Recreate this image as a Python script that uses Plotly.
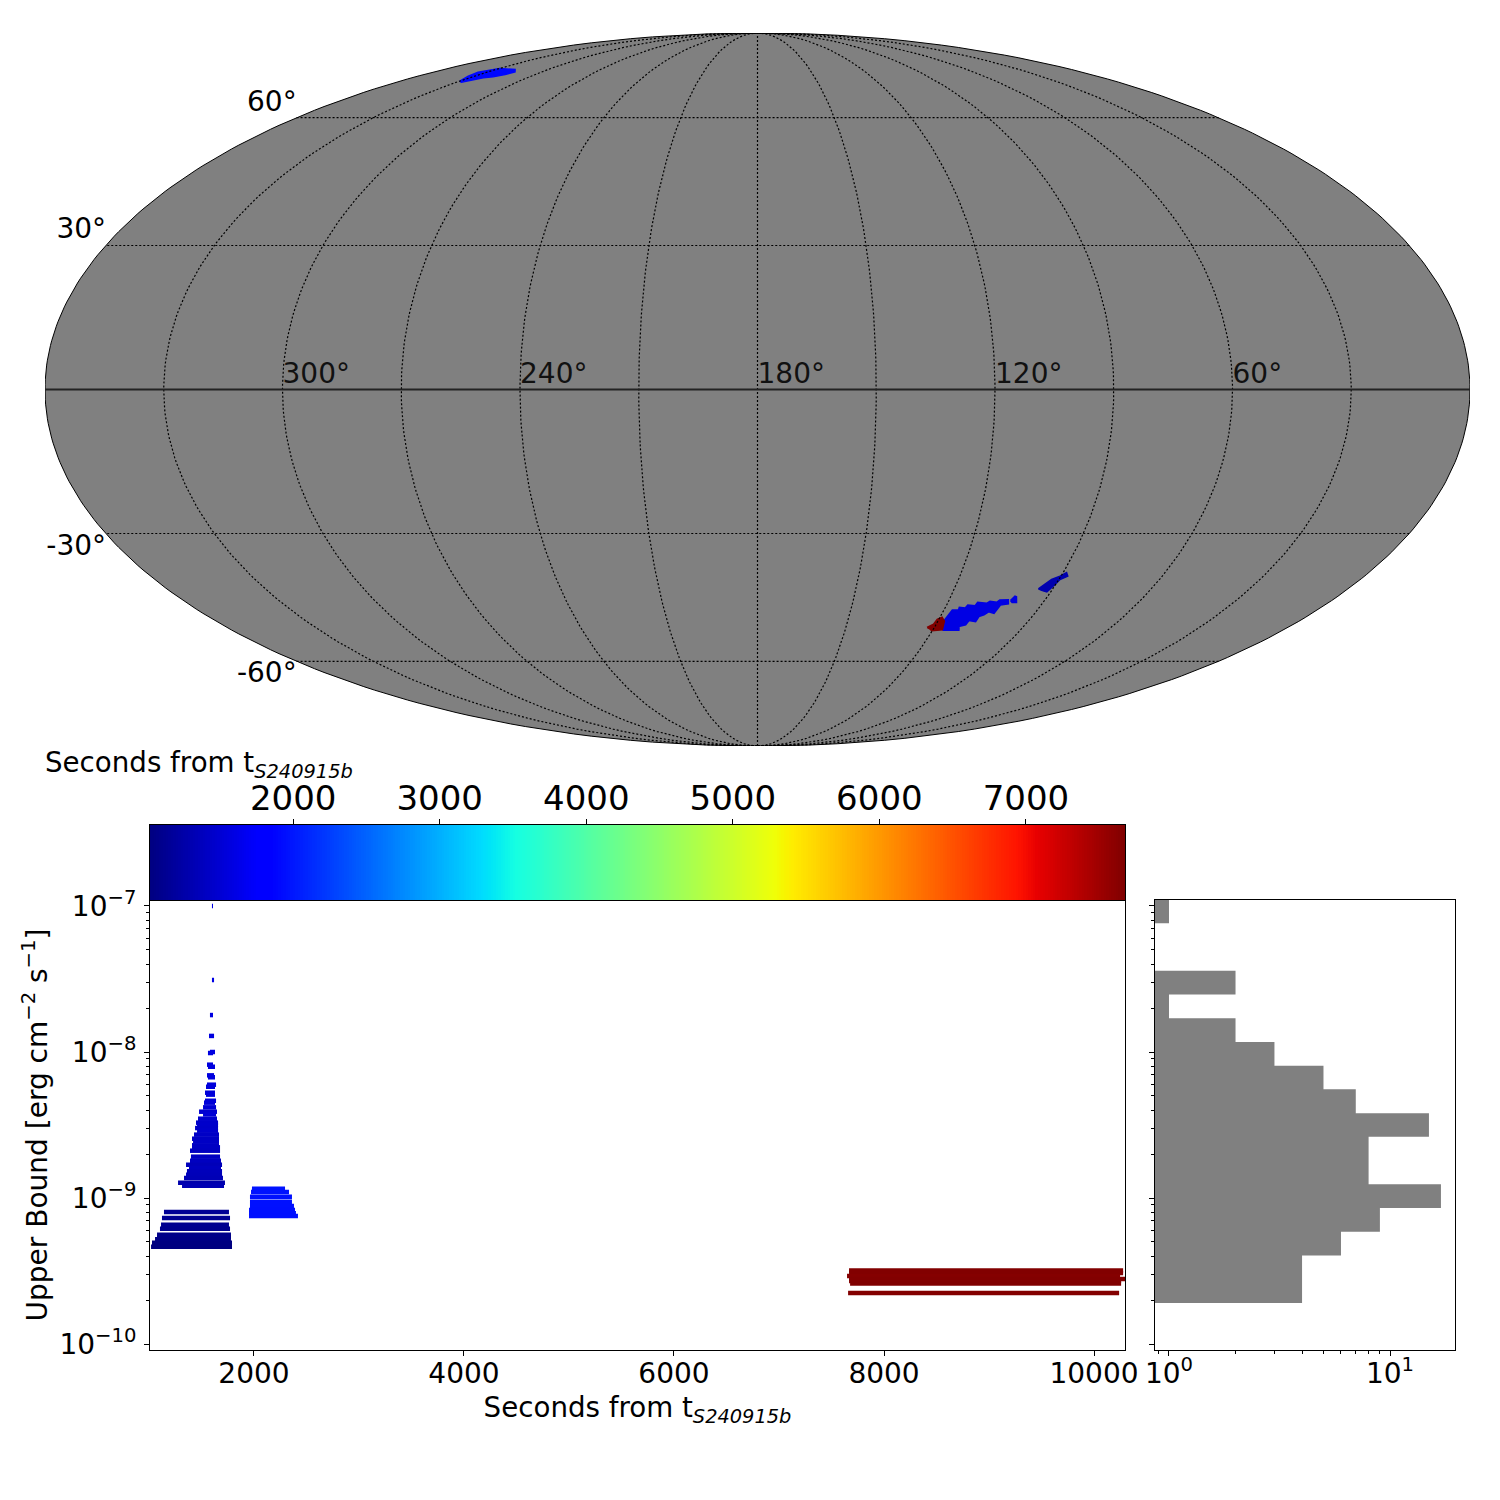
import numpy as np
import plotly.graph_objects as go
from plotly.colors import sample_colorscale

# ---------- data ----------
jet = [[0, "rgb(0,0,128)"], [.11, "rgb(0,0,255)"], [.125, "rgb(0,0,255)"], [.34, "rgb(0,219,255)"],
       [.35, "rgb(0,230,247)"], [.375, "rgb(21,255,226)"], [.64, "rgb(239,255,8)"], [.65, "rgb(247,246,0)"],
       [.66, "rgb(255,236,0)"], [.89, "rgb(255,19,0)"], [.91, "rgb(232,0,0)"], [1, "rgb(128,0,0)"]]
t_min, t_max = 1023, 7676

t_start = [1600, 1600, 1600, 1581, 1572, 1562, 1581, 1553, 1562, 1553, 1562, 1553, 1543, 1534, 1543, 1534, 1524,
           1515, 1477, 1515, 1467, 1448, 1458, 1439, 1458, 1429, 1410, 1420, 1410, 1410, 1391,
           1400, 1391, 1353, 1381, 1362, 1353, 1334, 1277, 1315,
           1143, 1124, 1115, 1105, 1077, 1077, 1058, 1029, 1020,
           1981, 1972, 1962, 1962, 1962, 1953, 1953, 1953,
           7667, 7667, 7648, 7667, 7667, 7677, 7658]
t_end = [1610, 1600, 1620, 1610, 1620, 1610, 1629, 1610, 1629, 1620, 1629, 1639, 1629, 1629, 1629, 1639, 1629,
         1639, 1648, 1639, 1648, 1658, 1658, 1658, 1658, 1667, 1667, 1667, 1667, 1677, 1677,
         1677, 1686, 1696, 1686, 1696, 1696, 1705, 1724, 1715,
         1762, 1772, 1762, 1772, 1781, 1781, 1781, 1791, 1791,
         2296, 2334, 2362, 2362, 2381, 2391, 2400, 2419,
         10277, 10277, 10248, 10296, 10258, 10258, 10239]
log_ub = [-7.0, -7.473, -7.507, -7.747, -7.89, -8.007, -8.0, -8.087, -8.101, -8.16, -8.173, -8.224, -8.238, -8.279,
          -8.292, -8.334, -8.347, -8.379, -8.409, -8.427, -8.457, -8.484, -8.502, -8.521, -8.539, -8.566, -8.594,
          -8.612, -8.639, -8.653, -8.676, -8.717, -8.745, -8.772, -8.795, -8.817, -8.84, -8.863, -8.895, -8.916,
          -9.096, -9.137, -9.183, -9.21, -9.251, -9.265, -9.283, -9.306, -9.333,
          -8.936, -8.959, -8.991, -9.025, -9.055, -9.082, -9.105, -9.123,
          -9.497, -9.514, -9.534, -9.555, -9.568, -9.586, -9.651]

hist_log_edges = [-9.719, -9.556, -9.394, -9.231, -9.069, -8.906, -8.744, -8.581, -8.419, -8.256, -8.094, -7.931,
                  -7.769, -7.606, -7.444, -7.281, -7.119, -6.956]
hist_counts = [4, 4, 6, 9, 17, 8, 8, 15, 7, 5, 3, 2, 1, 2, 0, 0, 1]

sky_regions = {
    "main": dict(ra=[117.9, 117.65, 117.6, 117.2, 115.2, 115.4, 113.45, 113.15, 110.7, 110.5, 107.5, 106.85, 104.5, 104.0, 101.6,
                     100.9, 103.1, 103.2, 103.4, 105.4, 106.3, 107.6, 107.6, 110.0, 110.2, 112.1, 111.3, 116.4, 117.25],
                 dec=[-49.86, -49.06, -48.12, -47.34, -47.34, -46.7, -46.87, -46.16, -46.33, -45.53, -45.76, -45.29, -45.53, -44.99, -44.91,
                      -45.69, -45.93, -46.94, -47.88, -47.51, -48.28, -48.68, -49.86, -49.62, -50.64, -51.04, -51.98, -51.98, -51.65],
                 t=1600),
    "islet": dict(ra=[100.7, 100.2, 99.6, 98.4, 99.8], dec=[-45.0, -43.95, -44.1, -45.45, -45.45], t=1600),
    "late": dict(ra=[122.5, 120.9, 120.6, 119.4, 117.9, 116.8, 120.2, 121.1],
                 dec=[-51.41, -50.64, -49.46, -48.92, -49.86, -51.98, -52.21, -51.82], t=7676),
    "east": dict(ra=[94.4, 93.3, 92.2, 90.3, 89.0, 88.0, 89.7, 90.2, 90.6, 91.2, 93.1],
                 dec=[-42.3, -41.1, -40.15, -39.4, -38.6, -39.4, -40.15, -41.3, -42.05, -43.0, -42.65], t=1300),
    "north": dict(ra=[329.7, 333.1, 334.7, 331.3, 329.5, 318.9, 315.0, 316.2, 319.0, 322.7, 326.0, 327.5],
                  dec=[70.3, 71.85, 73.1, 73.7, 74.3, 74.0, 73.25, 72.4, 71.65, 71.35, 70.6, 70.0], t=1900),
}

ra_labels = [300, 240, 180, 120, 60]
dec_labels_north = [60, 30]
dec_labels_south = [-30, -60]
colorbar_ticks = [2000, 3000, 4000, 5000, 6000, 7000]
time_ticks = [2000, 4000, 6000, 8000, 10000]
y_ticks = [1e-10, 1e-9, 1e-8, 1e-7]
y_tick_text = ["10<sup>−10</sup>", "10<sup>−9</sup>", "10<sup>−8</sup>", "10<sup>−7</sup>"]
count_ticks = [1, 10]
count_tick_text = ["10<sup>0</sup>", "10<sup>1</sup>"]

# ---------- helpers ----------
FONT = "DejaVu Sans"
GRAY = "rgb(128,128,128)"
def time_color(t):
    return sample_colorscale(jet, [(min(max(t, t_min), t_max) - t_min) / (t_max - t_min)])[0]

def mollweide(ra, dec):
    """Project right ascension / declination (deg), centred on RA 180 and with RA growing to the left."""
    lon = np.radians(180 - np.asarray(ra, dtype=float))
    lat = np.radians(np.asarray(dec, dtype=float))
    th = lat.copy()
    for _ in range(60):
        d = 2 + 2 * np.cos(2 * th)
        d = np.where(np.abs(d) < 1e-9, 1e-9, d)
        th = th - (2 * th + np.sin(2 * th) - np.pi * np.sin(lat)) / d
    th = np.where(np.abs(lat) >= np.pi / 2 - 1e-9, np.sign(lat) * np.pi / 2, th)
    return 2 * np.sqrt(2) / np.pi * lon * np.cos(th), np.sqrt(2) * np.sin(th)

fig = go.Figure()
map_axes = dict(xaxis="x4", yaxis="y4", showlegend=False, hoverinfo="skip")
sweep = np.linspace(-90, 90, 181)

# ---------- sky map: sphere ----------
ex0, ey0 = mollweide(np.full_like(sweep, 0.0001), sweep)
ex1, ey1 = mollweide(np.full_like(sweep, 359.9999), sweep[::-1])
fig.add_trace(go.Scatter(x=np.r_[ex0, ex1, ex0[:1]], y=np.r_[ey0, ey1, ey0[:1]], mode="lines", fill="toself",
                         fillcolor=GRAY, line=dict(color="black", width=1), **map_axes))

# sky regions
for name, reg in sky_regions.items():
    c = time_color(reg["t"])
    px, py = mollweide(reg["ra"] + reg["ra"][:1], reg["dec"] + reg["dec"][:1])
    fig.add_trace(go.Scatter(x=px, y=py, mode="lines", fill="toself", fillcolor=c,
                             line=dict(color=c, width=2.5 if name == "main" else 1.5), **map_axes))

# graticule
GRID = dict(color="black", width=1.2, dash="2px,2px")
for ra in range(30, 360, 30):
    gx, gy = mollweide(np.full_like(sweep, float(ra)), sweep)
    fig.add_trace(go.Scatter(x=gx, y=gy, mode="lines", line=GRID, **map_axes))
for dec in [-60, -30, 30, 60]:
    span = np.linspace(0.0001, 359.9999, 3)
    gx, gy = mollweide(span, np.full_like(span, float(dec)))
    fig.add_trace(go.Scatter(x=gx, y=gy, mode="lines", line=GRID, **map_axes))
qx, qy = mollweide([0.0001, 359.9999], [0, 0])
fig.add_trace(go.Scatter(x=qx, y=qy, mode="lines", line=dict(color="#222222", width=2), **map_axes))

# graticule labels
lx, ly = mollweide(ra_labels, [0] * len(ra_labels))
fig.add_trace(go.Scatter(x=lx, y=ly, mode="text", text=[f"{v}°" for v in ra_labels], textposition="top right",
                         textfont=dict(family=FONT, size=28, color="#111111"), **map_axes))
lx, ly = mollweide([359.9] * len(dec_labels_north), dec_labels_north)
fig.add_trace(go.Scatter(x=lx, y=ly, mode="text", text=[f"{v}°" for v in dec_labels_north], textposition="top left",
                         textfont=dict(family=FONT, size=28, color="black"), cliponaxis=False, **map_axes))
lx, ly = mollweide([359.9] * len(dec_labels_south), dec_labels_south)
fig.add_trace(go.Scatter(x=lx, y=ly, mode="text", text=[f"{v}°" for v in dec_labels_south], textposition="bottom left",
                         textfont=dict(family=FONT, size=28, color="black"), cliponaxis=False, **map_axes))

# ---------- time / upper bound panel ----------
for a, b, u in zip(t_start, t_end, log_ub):
    fig.add_trace(go.Scatter(x=[a, b], y=[10 ** u, 10 ** u], mode="lines", xaxis="x", yaxis="y",
                             line=dict(color=time_color(a), width=4.5), showlegend=False, hoverinfo="skip"))

# ---------- colour bar ----------
ramp = np.linspace(t_min, t_max, 400)
fig.add_trace(go.Heatmap(x=ramp, y=[0, 1], z=[ramp, ramp], xaxis="x2", yaxis="y2", colorscale=jet,
                         zmin=t_min, zmax=t_max, showscale=False, hoverinfo="skip"))

# ---------- histogram ----------
hx, hy = [0.5], [10 ** hist_log_edges[0]]
for i, n in enumerate(hist_counts):
    v = n if n > 0 else 0.5
    hx += [v, v]
    hy += [10 ** hist_log_edges[i], 10 ** hist_log_edges[i + 1]]
hx.append(0.5); hy.append(10 ** hist_log_edges[-1])
fig.add_trace(go.Scatter(x=hx, y=hy, mode="lines", fill="toself", fillcolor=GRAY, line=dict(width=0, color=GRAY),
                         xaxis="x3", yaxis="y3", showlegend=False, hoverinfo="skip"))

def frame(**kw):
    base = dict(showline=True, linecolor="black", linewidth=1, mirror=True, ticks="outside", ticklen=5, tickwidth=1,
                tickcolor="black", showgrid=False, zeroline=False, automargin=False,
                tickfont=dict(family=FONT, size=28, color="black"))
    base.update(kw)
    return base
log_minor = dict(ticks="outside", ticklen=3, tickwidth=1, tickcolor="black", dtick="D1", showgrid=False)
y_range = [-10.041, -6.959]
hidden = dict(visible=False, showgrid=False, zeroline=False, automargin=False)

fig.update_layout(
    template="none", width=1500, height=1500, margin=dict(l=0, r=0, t=0, b=0, pad=0, autoexpand=False),
    paper_bgcolor="white", plot_bgcolor="white",
    showlegend=False, font=dict(family=FONT, color="black"),
    xaxis4=dict(domain=[45 / 1500, 1470 / 1500], range=[-2 * np.sqrt(2), 2 * np.sqrt(2)], anchor="y4", **hidden),
    yaxis4=dict(domain=[1 - 746 / 1500, 1 - 33 / 1500], range=[-np.sqrt(2), np.sqrt(2)], anchor="x4", **hidden),
    xaxis=frame(domain=[150 / 1500, 1125 / 1500], range=[1010, 10295], anchor="y", tickvals=time_ticks,
                ticktext=[str(v) for v in time_ticks], ticklabelstandoff=-7,
                title=dict(text="Seconds from t<sub><i>S240915b</i></sub>", font=dict(family=FONT, size=27.7), standoff=9)),
    yaxis=frame(domain=[1 - 1350 / 1500, 1 - 900 / 1500], type="log", range=y_range, anchor="x", tickvals=y_ticks,
                ticktext=y_tick_text, minor=log_minor, ticklabelstandoff=2,
                title=dict(text="Upper Bound [erg cm<sup>−2</sup> s<sup>−1</sup>]", font=dict(family=FONT, size=28), standoff=3)),
    xaxis2=frame(domain=[150 / 1500, 1125 / 1500], range=[t_min, t_max], anchor="y2", side="top", tickvals=colorbar_ticks,
                 ticktext=[str(v) for v in colorbar_ticks], tickfont=dict(family=FONT, size=34, color="black"),
                 ticklabelstandoff=-5),
    yaxis2=frame(domain=[1 - 900 / 1500, 1 - 825 / 1500], range=[0, 1], anchor="x2", showticklabels=False, ticks=""),
    xaxis3=frame(domain=[1155 / 1500, 1455 / 1500], type="log", range=[-0.0633, 1.294], anchor="y3", tickvals=count_ticks,
                 ticktext=count_tick_text, minor=log_minor, ticklabelstandoff=-7),
    yaxis3=frame(domain=[1 - 1350 / 1500, 1 - 900 / 1500], type="log", range=y_range, anchor="x3", tickvals=y_ticks,
                 showticklabels=False, minor=log_minor),
    annotations=[dict(text="Seconds from t<sub><i>S240915b</i></sub>", xref="paper", yref="paper", x=43 / 1500, y=1 - 764 / 1500,
                      xanchor="left", yanchor="middle", showarrow=False, font=dict(family=FONT, size=27.7, color="black"))],
)

fig.write_html("out.html", config=dict(displayModeBar=False),
               post_script="document.body.style.margin='0';document.body.style.overflow='hidden';")
